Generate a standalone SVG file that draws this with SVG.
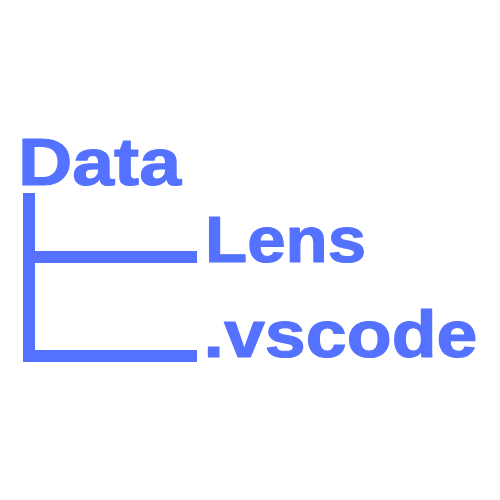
<svg xmlns="http://www.w3.org/2000/svg" width="500" height="500" viewBox="0 0 500 500">
<style>
.t{font-family:"Liberation Sans",Arial,sans-serif;font-weight:700;fill:#5472FF;stroke:#5472FF;stroke-width:1.2;stroke-linejoin:round}
.l{fill:#5472FF}
</style>
<rect width="500" height="500" fill="#fff"/>
<g id="data"><text class="t" x="18" y="184.5" font-size="67" textLength="163" lengthAdjust="spacingAndGlyphs">Data</text></g>
<g id="connectors">
<rect class="l" x="23" y="193" width="12" height="169"/>
<rect class="l" x="35" y="251" width="162" height="12"/>
<rect class="l" x="35" y="350" width="162" height="12"/>
</g>
<g id="lens"><text class="t" x="205" y="261.5" font-size="65" textLength="161" lengthAdjust="spacingAndGlyphs">Lens</text></g>
<g id="vscode"><text class="t" x="203.5" y="356.5" font-size="67" textLength="274" lengthAdjust="spacingAndGlyphs">.vscode</text></g>
</svg>
